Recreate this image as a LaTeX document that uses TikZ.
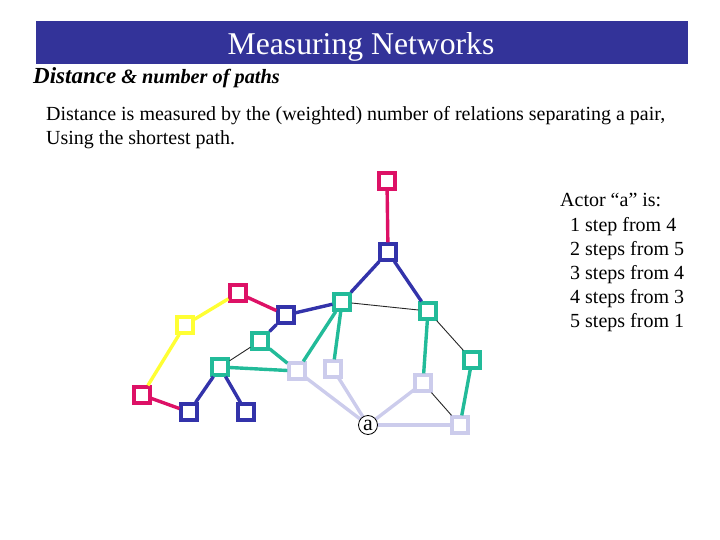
\documentclass[tikz,border=0pt]{standalone}
\usepackage{fontspec}
\setmainfont{Liberation Serif}
\usepackage{tikz}
\usetikzlibrary{positioning}

\definecolor{barblue}{RGB}{51,51,153}
\definecolor{hopone}{RGB}{204,204,236}
\definecolor{hoptwo}{RGB}{34,187,153}
\definecolor{hopthree}{RGB}{51,51,170}
\definecolor{hopfour}{RGB}{221,17,102}
\definecolor{hopfive}{RGB}{255,255,51}

\begin{document}
\begin{tikzpicture}[
  x=1pt, y=-1pt,
  actor/.style={draw, line width=3.2pt, fill=white, minimum size=16pt, inner sep=0pt},
  ego/.style={draw, circle, line width=0.8pt, fill=white, minimum size=19pt, inner sep=0pt},
  link/.style={line width=3.4pt},
  tie/.style={line width=0.9pt, black!85},
  line/.style={anchor=base west, inner sep=0pt, font=\fontsize{20}{24}\selectfont}
]
  \useasboundingbox (0,0) rectangle (720,540);

  % heading
  \node[fill=barblue, minimum width=652pt, minimum height=43pt, inner sep=0pt] (bar) at (362,42.5) {};
  \node[anchor=base, inner sep=0pt, text=white, font=\fontsize{31.7}{32}\selectfont] (title) at (361,55)
        {Measuring Networks};
  \node[anchor=base west, inner sep=0pt, font=\bfseries\itshape] (sub) at (33,84)
        {\fontsize{23}{23}\selectfont Distance{\fontsize{20.3}{21}\selectfont\ \& number of paths}};
  \node[line] (intro) at (46,121)
        {Distance is measured by the (weighted) number of relations separating a pair,};
  \node[line] (intro2) at (46,145) {Using the shortest path.};
  \node[line] (count) at (560,207) {Actor ``a'' is:};
  \foreach \txt [count=\i] in {1 step from 4, 2 steps from 5, 3 steps from 4,
                               4 steps from 3, 5 steps from 1}
    \node[line] (count\i) at (570,207+24*\i) {\txt};

  % ties to a
  \draw[link, hopone] (368,425) -- (297,371);
  \draw[link, hopone] (368,425) -- (333,369);
  \draw[link, hopone] (368,425) -- (423,383);
  \draw[link, hopone] (368,425) -- (460,425);

  % actors, coloured by steps from a
  \node[actor, draw=hopfour]  (r1) at (387,181) {};
  \node[actor, draw=hopthree] (b1) at (388,252) {};
  \node[actor, draw=hoptwo]   (g1) at (342,302) {};
  \node[actor, draw=hoptwo]   (g2) at (428,311) {};
  \node[actor, draw=hoptwo]   (g3) at (472,360) {};
  \node[actor, draw=hopfour]  (m2) at (238,293) {};
  \node[actor, draw=hopthree] (b2) at (286,315) {};
  \node[actor, draw=hopfive]  (y1) at (185,325) {};
  \node[actor, draw=hoptwo]   (g4) at (260,341) {};
  \node[actor, draw=hoptwo]   (g5) at (220,367) {};
  \node[actor, draw=hopone]   (l1) at (297,371) {};
  \node[actor, draw=hopone]   (l2) at (333,369) {};
  \node[actor, draw=hopone]   (l3) at (423,383) {};
  \node[actor, draw=hopone]   (l4) at (460,425) {};
  \node[actor, draw=hopfour]  (m3) at (142,395) {};
  \node[actor, draw=hopthree] (b3) at (189,412) {};
  \node[actor, draw=hopthree] (b4) at (246,412) {};
  \node[ego] (a) at (368,425) {\fontsize{22}{22}\selectfont a};

  \draw[link, hoptwo] (g1) -- (l1);
  \draw[link, hoptwo] (g1) -- (l2);
  \draw[link, hoptwo] (g4) -- (l1);
  \draw[link, hoptwo] (g5) -- (l1);
  \draw[link, hoptwo] (g2) -- (l3);
  \draw[link, hoptwo] (g3) -- (l4);
  \draw[link, hopthree] (b1) -- (g1);
  \draw[link, hopthree] (b1) -- (g2);
  \draw[link, hopthree] (b2) -- (g1);
  \draw[link, hopthree] (b2) -- (g4);
  \draw[link, hopthree] (b3) -- (g5);
  \draw[link, hopthree] (b4) -- (g5);
  \draw[link, hopfour] (r1) -- (b1);
  \draw[link, hopfour] (m2) -- (b2);
  \draw[link, hopfour] (m3) -- (b3);
  \draw[link, hopfive] (y1) -- (m2);
  \draw[link, hopfive] (y1) -- (m3);
  \draw[tie] (g1) -- (g2);
  \draw[tie] (g2) -- (g3);
  \draw[tie] (g4) -- (g5);
  \draw[tie] (l3) -- (l4);
\end{tikzpicture}
\end{document}
